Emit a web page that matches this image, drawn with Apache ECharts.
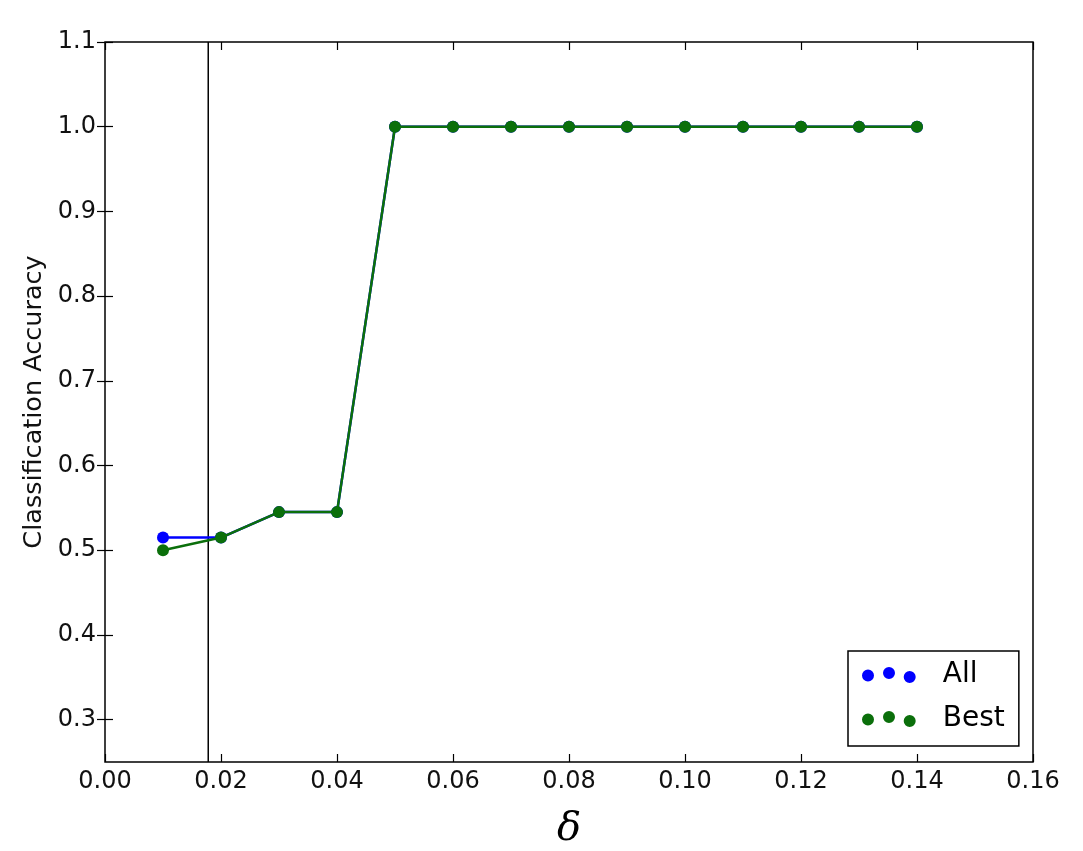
<!DOCTYPE html>
<html>
<head>
<meta charset="utf-8">
<script src="https://cdn.jsdelivr.net/npm/echarts@6/dist/echarts.min.js"></script>
<style>html,body{margin:0;padding:0;background:#fff}#c{width:1083px;height:851px}</style>
</head>
<body>
<div id="c"></div>
<script>
const deltas = [0.01,0.02,0.03,0.04,0.05,0.06,0.07,0.08,0.09,0.10,0.11,0.12,0.13,0.14];
const allAcc = [0.515,0.515,0.545,0.545,1,1,1,1,1,1,1,1,1,1];
const bestAcc = [0.5,0.515,0.545,0.545,1,1,1,1,1,1,1,1,1,1];
const xTicks = [0,0.02,0.04,0.06,0.08,0.10,0.12,0.14,0.16];
const yTicks = [0.3,0.4,0.5,0.6,0.7,0.8,0.9,1.0,1.1];
const vLineX = 0.0178;
const yRange = [0.25, 1.1];

const iconPath = 'path://M0,8.4a6,6 0 1,0 12,0a6,6 0 1,0 -12,0Z M21,6a6,6 0 1,0 12,0a6,6 0 1,0 -12,0Z M41.7,10a6,6 0 1,0 12,0a6,6 0 1,0 -12,0Z';
const font = 'DejaVu Sans';
const blue = '#0000ff';
const green = '#0b6f0b';

function pairs(xs, ys){ return xs.map((x,i)=>[x, ys[i]]); }

const chart = echarts.init(document.getElementById('c'), null, {renderer:'canvas'});
const tickStyle = {show:true, inside:true, length:8, lineStyle:{color:'#000', width:1.2}};
chart.setOption({
  animation:false,
  backgroundColor:'#fff',
  grid:{left:105, right:50, top:42, bottom:89, outerBoundsMode:'none', containLabel:false,
    show:true, borderColor:'#000', borderWidth:1.5, backgroundColor:'transparent'},
  legend:{
    orient:'vertical', left:848, top:651,
    padding:[10,14,13,14], itemGap:16,
    itemWidth:54, itemHeight:16,
    borderColor:'#000', borderWidth:1.5, backgroundColor:'#fff',
    textStyle:{fontFamily:font, fontSize:28, color:'#000', padding:[0,0,0,22]},
    data:[{name:'All', icon:iconPath},{name:'Best', icon:iconPath}]
  },
  xAxis:[{
    type:'value', min:0, max:0.16, interval:0.02,
    axisLine:{show:false}, splitLine:{show:false},
    axisTick:Object.assign({customValues:xTicks}, tickStyle),
    axisLabel:{customValues:xTicks, formatter:v=>v.toFixed(2), fontFamily:font, fontSize:24, color:'#111', margin:8},
    name:'δ', nameLocation:'middle', nameGap:48,
    nameTextStyle:{fontFamily:'DejaVu Serif', fontStyle:'italic', fontSize:40, color:'#000'}
  },{
    type:'value', position:'top', min:0, max:0.16, interval:0.02,
    axisLine:{show:false}, splitLine:{show:false}, axisLabel:{show:false},
    axisTick:Object.assign({customValues:xTicks}, tickStyle)
  }],
  yAxis:[{
    type:'value', min:yRange[0], max:yRange[1],
    axisLine:{show:false}, splitLine:{show:false},
    axisTick:Object.assign({customValues:yTicks}, tickStyle),
    axisLabel:{customValues:yTicks, formatter:v=>v.toFixed(1), fontFamily:font, fontSize:24, color:'#111', margin:9},
    name:'Classification Accuracy', nameLocation:'middle', nameGap:58,
    nameTextStyle:{fontFamily:font, fontSize:25.5, color:'#111'}
  },{
    type:'value', position:'right', min:yRange[0], max:yRange[1],
    axisLine:{show:false}, splitLine:{show:false}, axisLabel:{show:false},
    axisTick:Object.assign({customValues:yTicks}, tickStyle)
  }],
  series:[{
    name:'vline', type:'line', data:[[vLineX, yRange[0]],[vLineX, yRange[1]]],
    symbol:'none', lineStyle:{color:'#000', width:1.5}, z:1, silent:true
  },{
    name:'All', type:'line', data:pairs(deltas, allAcc),
    color:blue, symbol:'circle', symbolSize:12,
    lineStyle:{width:2.5, color:blue}, itemStyle:{color:blue}, z:2
  },{
    name:'Best', type:'line', data:pairs(deltas, bestAcc),
    color:green, symbol:'circle', symbolSize:12,
    lineStyle:{width:2.5, color:green}, itemStyle:{color:green}, z:3
  }]
});
</script>
</body>
</html>
